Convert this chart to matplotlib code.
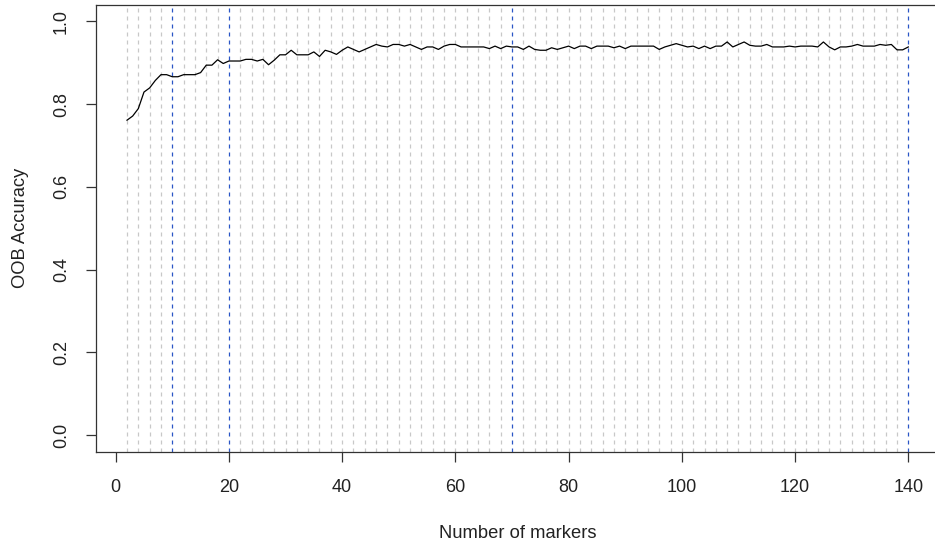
import numpy as np
import matplotlib
matplotlib.use("Agg")
import matplotlib.pyplot as plt

# Out-of-bag accuracy for models using 2..140 markers
n_markers = list(range(2, 141))
oob_accuracy = [
    0.761, 0.771, 0.789, 0.829, 0.839, 0.857, 0.871, 0.871, 0.866, 0.866,   # 2-11
    0.871, 0.871, 0.871, 0.876, 0.894, 0.894, 0.907, 0.898, 0.904, 0.904,   # 12-21
    0.904, 0.908, 0.908, 0.904, 0.908, 0.895, 0.906, 0.919, 0.919, 0.930,   # 22-31
    0.919, 0.919, 0.919, 0.926, 0.915, 0.930, 0.926, 0.920, 0.930, 0.938,   # 32-41
    0.932, 0.926, 0.932, 0.938, 0.944, 0.940, 0.938, 0.944, 0.944, 0.940,   # 42-51
    0.944, 0.938, 0.932, 0.938, 0.938, 0.932, 0.940, 0.944, 0.944, 0.938,   # 52-61
    0.938, 0.938, 0.938, 0.938, 0.934, 0.940, 0.934, 0.940, 0.938, 0.938,   # 62-71
    0.932, 0.940, 0.932, 0.930, 0.930, 0.936, 0.932, 0.936, 0.940, 0.934,   # 72-81
    0.940, 0.940, 0.934, 0.940, 0.940, 0.940, 0.936, 0.940, 0.934, 0.940,   # 82-91
    0.940, 0.940, 0.940, 0.940, 0.932, 0.938, 0.942, 0.946, 0.942, 0.938,   # 92-101
    0.940, 0.934, 0.940, 0.934, 0.940, 0.940, 0.950, 0.938, 0.944, 0.950,   # 102-111
    0.942, 0.940, 0.940, 0.944, 0.938, 0.938, 0.938, 0.940, 0.938, 0.940,   # 112-121
    0.940, 0.940, 0.938, 0.950, 0.938, 0.931, 0.938, 0.938, 0.940, 0.944,   # 122-131
    0.940, 0.940, 0.940, 0.944, 0.942, 0.944, 0.931, 0.931, 0.938,          # 132-140
]

grid_marks = list(range(2, 141, 2))
highlight_marks = [10, 20, 70, 140]

x_ticks = [0, 20, 40, 60, 80, 100, 120, 140]
y_ticks = [0.0, 0.2, 0.4, 0.6, 0.8, 1.0]

plt.rcParams["font.family"] = ["Liberation Sans", "DejaVu Sans"]

fig = plt.figure(figsize=(9.35, 5.43), dpi=100)
ax = fig.add_axes([0.1024, 0.1681, 0.9025, 0.8232])

dash = (0, (3.2, 3.2))
for xv in grid_marks:
    if xv in highlight_marks:
        continue
    ax.axvline(xv, color="#c8c8c8", lw=0.9, linestyle=dash, zorder=1)
for xv in highlight_marks:
    ax.axvline(xv, color="#2a56c6", lw=0.9, linestyle=dash, zorder=2)

ax.plot(n_markers, oob_accuracy, color="black", lw=0.9, zorder=3)

span_x = n_markers[-1] - n_markers[0]
ax.set_xlim(n_markers[0] - 0.04 * span_x, n_markers[-1] + 0.04 * span_x)
ax.set_ylim(-0.04, 1.04)

ax.set_xticks(x_ticks)
ax.set_xticklabels([str(v) for v in x_ticks])
ax.set_yticks(y_ticks)
ax.set_yticklabels([f"{v:.1f}" for v in y_ticks], rotation=90, va="center")

ax.tick_params(axis="both", which="major", length=7.5, width=0.9,
               color="#333333", labelsize=13, labelcolor="#222222")
ax.tick_params(axis="x", pad=12)
ax.tick_params(axis="y", pad=11)

for side in ["left", "bottom", "top", "right"]:
    ax.spines[side].set_color("#333333")
    ax.spines[side].set_linewidth(0.9)

ax.set_xlabel("Number of markers", fontsize=13.2, color="#222222", labelpad=21)
ax.set_ylabel("OOB Accuracy", fontsize=13.2, color="#222222", labelpad=17)

fig.savefig("out.png", dpi=100)
